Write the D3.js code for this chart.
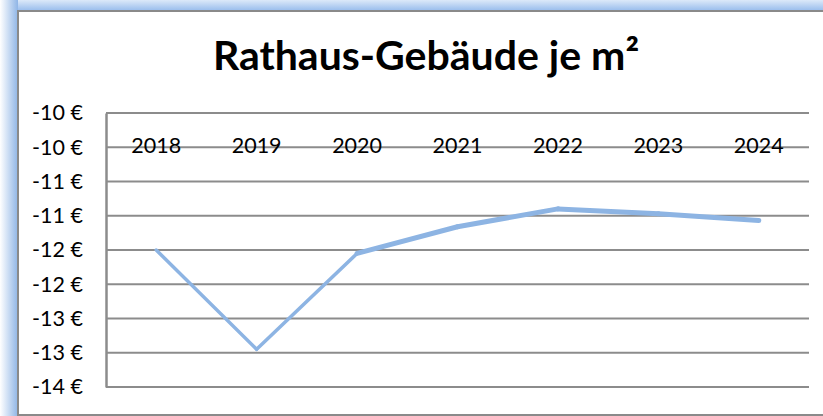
<!DOCTYPE html>
<html>
<head>
<meta charset="utf-8">
<script src="https://cdn.jsdelivr.net/npm/d3@7"></script>
<style>
  html, body { margin: 0; padding: 0; background: #fff; }
  svg { display: block; font-family: Lato, "Open Sans", sans-serif; }
</style>
</head>
<body>
<div id="chart"></div>
<script>
"use strict";

// values
var years = ["2018", "2019", "2020", "2021", "2022", "2023", "2024"];
var costs = [-12.0, -13.45, -12.05, -11.66, -11.40, -11.47, -11.57];
var yTicks = [-10, -10.5, -11, -11.5, -12, -12.5, -13, -13.5, -14];
var yTickLabels = ["-10 €", "-10 €", "-11 €", "-11 €", "-12 €", "-12 €", "-13 €", "-13 €", "-14 €"];
var title = "Rathaus-Gebäude je m²";

var W = 823, H = 416;
var plot = {left: 106, right: 809, top: 113, bottom: 387};

var svg = d3.select("#chart").append("svg")
    .attr("width", W)
    .attr("height", H);

// blue glow round the frame
var defs = svg.append("defs");
var gTop = defs.append("linearGradient").attr("id", "gTop")
    .attr("x1", 0).attr("y1", 0).attr("x2", 0).attr("y2", 1);
gTop.append("stop").attr("offset", "0%").attr("stop-color", "#dce9f9");
gTop.append("stop").attr("offset", "100%").attr("stop-color", "#96bbec");
var gLeft = defs.append("linearGradient").attr("id", "gLeft")
    .attr("x1", 0).attr("y1", 0).attr("x2", 1).attr("y2", 0);
gLeft.append("stop").attr("offset", "0%").attr("stop-color", "#ffffff");
gLeft.append("stop").attr("offset", "100%").attr("stop-color", "#8fb5e6");

svg.append("rect").attr("x", 0).attr("y", 0).attr("width", W).attr("height", 11)
    .attr("fill", "url(#gTop)");
svg.append("rect").attr("x", 0).attr("y", 0).attr("width", 18).attr("height", H)
    .attr("fill", "url(#gLeft)");

// chart border
svg.append("rect")
    .attr("x", 18).attr("y", 11)
    .attr("width", W + 10).attr("height", 404)
    .attr("fill", "#fff")
    .attr("stroke", "#8a8a8a")
    .attr("stroke-width", 2);

svg.append("text")
    .attr("x", 426)
    .attr("y", 70)
    .attr("text-anchor", "middle")
    .style("font-size", "41px")
    .style("font-weight", "bold")
    .attr("fill", "#000")
    .text(title);

var x = d3.scaleBand()
    .domain(years)
    .range([plot.left, plot.right]);

var y = d3.scaleLinear()
    .domain([-14, -10])
    .range([plot.bottom, plot.top]);

// gridlines
svg.append("g")
  .selectAll("line")
  .data(yTicks)
  .enter().append("line")
    .attr("x1", plot.left)
    .attr("x2", plot.right)
    .attr("y1", function(d) { return y(d); })
    .attr("y2", function(d) { return y(d); })
    .attr("stroke", "#8c8c8c")
    .attr("stroke-width", 2);

// y axis
var yAxis = svg.append("g")
    .attr("transform", "translate(" + plot.left + ",0)")
    .call(d3.axisLeft(y)
      .tickValues(yTicks)
      .tickSize(0)
      .tickPadding(23)
      .tickFormat(function(d, i) { return yTickLabels[i]; }));
yAxis.select(".domain").attr("stroke", "#8c8c8c").attr("stroke-width", 2.5);
yAxis.selectAll("text")
    .style("font-size", "21.5px")
    .style("font-family", "Lato, 'Open Sans', sans-serif")
    .attr("fill", "#000");

// category labels sit along the top
var xAxis = svg.append("g")
    .attr("transform", "translate(0," + 153 + ")")
    .call(d3.axisTop(x).tickSize(0).tickPadding(0));
xAxis.select(".domain").remove();
xAxis.selectAll("text")
    .style("font-size", "21.5px")
    .style("font-family", "Lato, 'Open Sans', sans-serif")
    .attr("fill", "#000");

// the series, one segment at a time (later part is drawn heavier)
var pts = years.map(function(yr, i) {
  return [x(yr) + x.bandwidth() / 2, y(costs[i])];
});
svg.append("g")
  .selectAll("path")
  .data(d3.pairs(pts))
  .enter().append("path")
    .attr("d", function(d) { return d3.line()(d); })
    .attr("fill", "none")
    .attr("stroke", "#8db4e3")
    .attr("stroke-linejoin", "round")
    .attr("stroke-linecap", "round")
    .attr("stroke-width", function(d, i) { return i < 2 ? 3.5 : 5; });
</script>
</body>
</html>
